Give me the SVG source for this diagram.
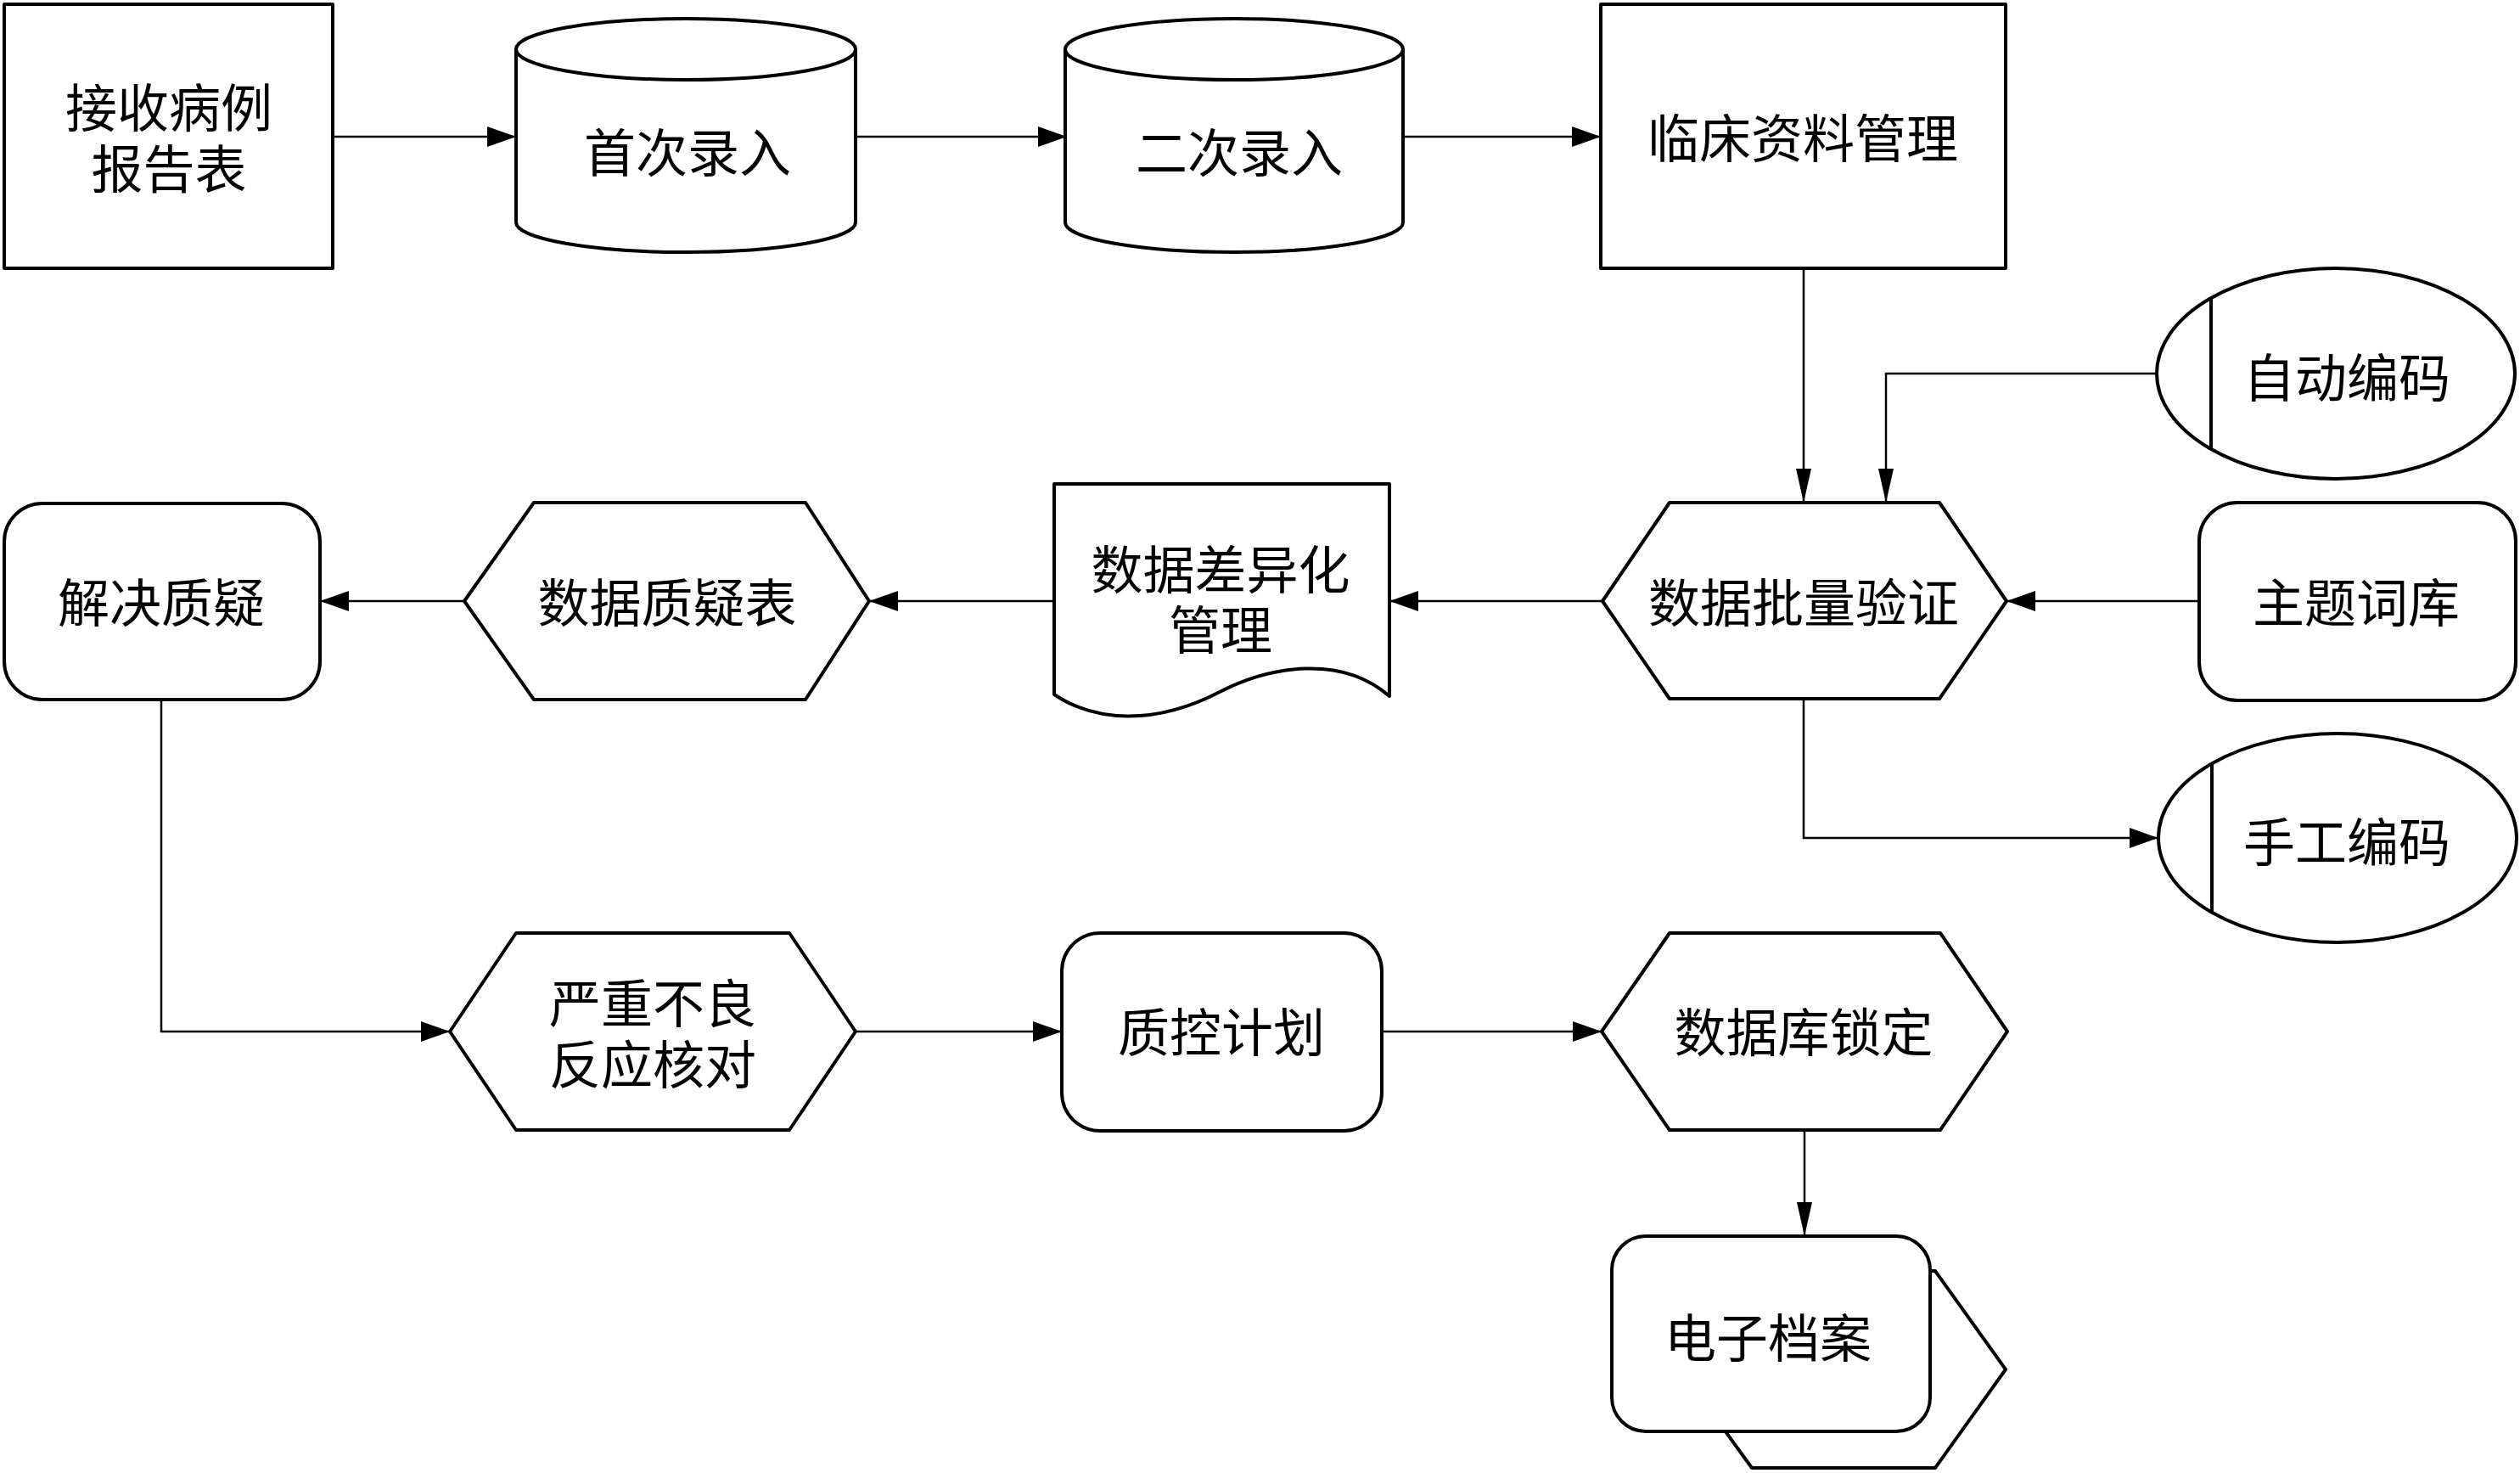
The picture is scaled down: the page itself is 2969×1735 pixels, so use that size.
<svg xmlns="http://www.w3.org/2000/svg" width="2969" height="1735" viewBox="0 0 2969 1735">
<style>
.s{fill:#fff;stroke:#000;stroke-width:4;stroke-linejoin:round}
.l{fill:none;stroke:#000;stroke-width:2.5}
.t{font-family:"Noto Sans CJK SC","Noto Sans CJK TC",sans-serif;font-size:61px;text-anchor:middle;dominant-baseline:central;fill:#000}
</style>
<defs>
<marker id="arr" markerUnits="userSpaceOnUse" markerWidth="36" markerHeight="26" refX="34" refY="12" orient="auto">
<path d="M0,0 L34,12 L0,24 Z" fill="#000"/>
</marker>
<marker id="arrN" markerUnits="userSpaceOnUse" markerWidth="42" markerHeight="20" refX="40" refY="9" orient="auto">
<path d="M0,0 L40,9 L0,18 Z" fill="#000"/>
</marker>
</defs>
<rect width="2969" height="1735" fill="#fff"/>
<g id="connectors">
<line class="l" x1="392" y1="161" x2="608" y2="161" marker-end="url(#arr)"/>
<line class="l" x1="1008" y1="161" x2="1257" y2="161" marker-end="url(#arr)"/>
<line class="l" x1="1653" y1="161" x2="1886" y2="161" marker-end="url(#arr)"/>
<line class="l" x1="2125" y1="316" x2="2125" y2="592" marker-end="url(#arrN)"/>
<polyline class="l" points="2542,440 2222,440 2222,592" marker-end="url(#arrN)"/>
<line class="l" x1="2591" y1="708" x2="2364" y2="708" marker-end="url(#arr)"/>
<line class="l" x1="1888" y1="708" x2="1637" y2="708" marker-end="url(#arr)"/>
<line class="l" x1="1241" y1="708" x2="1024" y2="708" marker-end="url(#arr)"/>
<line class="l" x1="547" y1="708" x2="377" y2="708" marker-end="url(#arr)"/>
<polyline class="l" points="2125,823 2125,987 2543,987" marker-end="url(#arr)"/>
<polyline class="l" points="190,824 190,1215 530,1215" marker-end="url(#arr)"/>
<line class="l" x1="1008" y1="1215" x2="1251" y2="1215" marker-end="url(#arr)"/>
<line class="l" x1="1628" y1="1215" x2="1887" y2="1215" marker-end="url(#arr)"/>
<line class="l" x1="2126" y1="1331" x2="2126" y2="1456" marker-end="url(#arrN)"/>
</g>
<g id="n1">
<rect class="s" x="5" y="5" width="387" height="311"/>
<text class="t" x="199" y="123"><tspan x="199">接收病例</tspan><tspan x="199" dy="72">报告表</tspan></text>
</g>
<g id="n2">
<path class="s" d="M608,58 V262 A200,35 0 0 0 1008,262 V58"/>
<ellipse class="s" cx="808" cy="58" rx="200" ry="36"/>
<text class="t" x="810" y="176">首次录入</text>
</g>
<g id="n3">
<path class="s" d="M1255,58 V262 A199,35 0 0 0 1653,262 V58"/>
<ellipse class="s" cx="1454" cy="58" rx="199" ry="36"/>
<text class="t" x="1460" y="176">二次录入</text>
</g>
<g id="n4">
<rect class="s" x="1886" y="5" width="477" height="311"/>
<text class="t" x="2124" y="159">临床资料管理</text>
</g>
<g id="n5">
<ellipse class="s" cx="2752" cy="440" rx="211" ry="124"/>
<line class="s" x1="2605" y1="352" x2="2605" y2="528"/>
<text class="t" x="2765" y="441">自动编码</text>
</g>
<g id="n6">
<polygon class="s" points="1888,708 1967,592 2285,592 2364,708 2285,823 1967,823"/>
<text class="t" x="2125" y="706">数据批量验证</text>
</g>
<g id="n7">
<rect class="s" x="2591" y="592" width="373" height="233" rx="45" ry="45"/>
<text class="t" x="2776" y="706">主题词库</text>
</g>
<g id="n8">
<path class="s" d="M1242,570 H1637 V820 C1580,770 1495,785 1437,815 C1360,855 1290,850 1242,818 Z"/>
<text class="t" x="1438" y="667"><tspan x="1438">数据差异化</tspan><tspan x="1438" dy="71">管理</tspan></text>
</g>
<g id="n9">
<polygon class="s" points="547,708 629,592 949,592 1024,708 949,824 629,824"/>
<text class="t" x="786" y="706">数据质疑表</text>
</g>
<g id="n10">
<rect class="s" x="5" y="593" width="372" height="231" rx="45" ry="45"/>
<text class="t" x="190" y="706">解决质疑</text>
</g>
<g id="n11">
<ellipse class="s" cx="2754" cy="987" rx="211" ry="123"/>
<line class="s" x1="2606" y1="899" x2="2606" y2="1075"/>
<text class="t" x="2765" y="988">手工编码</text>
</g>
<g id="n12">
<polygon class="s" points="530,1215 608,1099 930,1099 1008,1215 930,1331 608,1331"/>
<text class="t" x="769" y="1178"><tspan x="769">严重不良</tspan><tspan x="769" dy="72">反应核对</tspan></text>
</g>
<g id="n13">
<rect class="s" x="1251" y="1099" width="377" height="233" rx="45" ry="45"/>
<text class="t" x="1439" y="1212">质控计划</text>
</g>
<g id="n14">
<polygon class="s" points="1887,1215 1967,1099 2286,1099 2365,1215 2286,1331 1967,1331"/>
<text class="t" x="2125" y="1212">数据库锁定</text>
</g>
<g id="n15">
<polygon class="s" points="1980,1613 2064,1497 2280,1497 2363,1613 2280,1729 2064,1729"/>
<rect class="s" x="1899" y="1456" width="375" height="230" rx="40" ry="40"/>
<text class="t" x="2083" y="1572">电子档案</text>
</g>
</svg>
